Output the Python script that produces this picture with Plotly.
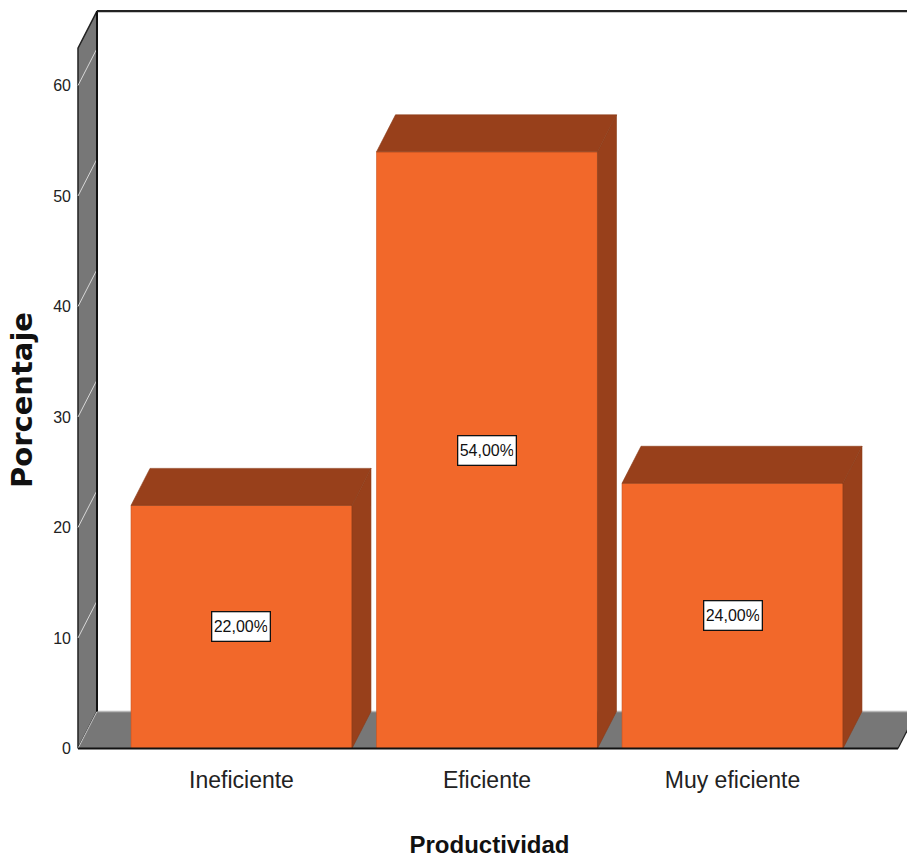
import plotly.graph_objects as go

# ---- data ----
categories = ["Ineficiente", "Eficiente", "Muy eficiente"]
percentages = [22, 54, 24]
value_labels = ["22,00%", "54,00%", "24,00%"]
y_ticks = [0, 10, 20, 30, 40, 50, 60]

# ---- style / geometry (data units) ----
FRONT = "#F2682A"
DARK = "#98401B"
GRAY = "#777777"
BAR_W = 0.9
DX = 0.0774      # depth offset in x (category units)
DY = 3.35        # depth offset in y (percent units)
X_RANGE = [-0.6904, 2.7108]
Y_RANGE = [-0.5, 67.74]
WALL_X = -0.666
FLOOR_RIGHT = 2.674
TOP_BACK = 66.74
SANS = "Liberation Sans, Arial, sans-serif"

xs = list(range(len(categories)))

fig = go.Figure()

# front faces of bars
fig.add_trace(go.Bar(
    x=xs, y=percentages, width=BAR_W, base=0,
    marker=dict(color=FRONT, line=dict(color="#C85420", width=0.6)),
    hoverinfo="skip", showlegend=False,
))

# side and top faces
for x, v in zip(xs, percentages):
    l, r = x - BAR_W / 2, x + BAR_W / 2
    fig.add_trace(go.Scatter(
        x=[r, r + DX, r + DX, r, r], y=[0, DY, v + DY, v, 0],
        fill="toself", fillcolor=DARK, mode="lines",
        line=dict(color="#8A3A18", width=0.6),
        hoverinfo="skip", showlegend=False,
    ))
    fig.add_trace(go.Scatter(
        x=[l, l + DX, r + DX, r, l], y=[v, v + DY, v + DY, v, v],
        fill="toself", fillcolor=DARK, mode="lines",
        line=dict(color="#8A3A18", width=0.6),
        hoverinfo="skip", showlegend=False,
    ))

shapes = []
wx0, wx1 = WALL_X, WALL_X + DX
# left wall
shapes.append(dict(
    type="path", xref="x", yref="y", layer="below",
    path=f"M {wx0},0 L {wx0},{TOP_BACK-DY} L {wx1},{TOP_BACK} L {wx1},{DY} Z",
    fillcolor=GRAY, line=dict(color="#222222", width=1.5),
))
# wall tick lines
for t in y_ticks[1:]:
    shapes.append(dict(
        type="line", xref="x", yref="y", layer="below",
        x0=wx0, y0=t, x1=wx1, y1=t + DY,
        line=dict(color="#D8D8D8", width=1),
    ))
# floor
shapes.append(dict(
    type="path", xref="x", yref="y", layer="below",
    path=f"M {wx0},0 L {wx1},{DY} L {FLOOR_RIGHT+DX},{DY} L {FLOOR_RIGHT},0 Z",
    fillcolor=GRAY, line=dict(width=0),
))
shapes.append(dict(type="line", xref="x", yref="y", layer="below",
                   x0=wx1, y0=DY, x1=FLOOR_RIGHT + DX, y1=DY,
                   line=dict(color="#B8B8B8", width=1.5)))
shapes.append(dict(type="line", xref="x", yref="y", layer="below",
                   x0=wx0, y0=0, x1=wx1, y1=DY,
                   line=dict(color="#C8C8C8", width=1)))
shapes.append(dict(type="line", xref="x", yref="y", layer="below",
                   x0=FLOOR_RIGHT, y0=0, x1=FLOOR_RIGHT + DX, y1=DY,
                   line=dict(color="#222222", width=1.2)))
shapes.append(dict(type="line", xref="x", yref="y", layer="above",
                   x0=wx0, y0=0, x1=FLOOR_RIGHT, y1=0,
                   line=dict(color="#111111", width=2)))
# back wall vertical edge and top edge
shapes.append(dict(type="line", xref="x", yref="y", layer="below",
                   x0=wx1, y0=DY, x1=wx1, y1=TOP_BACK,
                   line=dict(color="#111111", width=2)))
shapes.append(dict(type="line", xref="x", yref="y", layer="below",
                   x0=wx1, y0=TOP_BACK, x1=X_RANGE[1] + 0.1, y1=TOP_BACK,
                   line=dict(color="#222222", width=2.2)))

plot_w = 907 - 72
plot_h = 866 - 112

annotations = []
for x, v, lab in zip(xs, percentages, value_labels):
    annotations.append(dict(
        x=x, y=v / 2, xref="x", yref="y", text=lab, showarrow=False,
        font=dict(family=SANS, size=16, color="#111111"),
        width=53, height=24,
        bgcolor="white", bordercolor="#111111", borderwidth=1.3, borderpad=2,
    ))
annotations.append(dict(
    x=(22 - 72) / plot_w, y=(plot_h - 400) / plot_h,
    xref="paper", yref="paper", text="<b>Porcentaje</b>",
    showarrow=False, textangle=-90, xanchor="center", yanchor="middle",
    font=dict(family="DejaVu Sans, Liberation Sans, sans-serif", size=29, color="#111111"),
))

fig.update_layout(
    width=907, height=866,
    margin=dict(l=72, r=0, t=0, b=112),
    paper_bgcolor="white", plot_bgcolor="white",
    shapes=shapes,
    annotations=annotations,
    xaxis=dict(
        range=X_RANGE, tickmode="array", tickvals=xs, ticktext=categories,
        showgrid=False, zeroline=False, showline=False, ticks="",
        ticklabelstandoff=10,
        tickfont=dict(family=SANS, size=23, color="#222222"),
        title=dict(text="<b>Productividad</b>", standoff=44,
                   font=dict(family=SANS, size=24, color="#111111")),
    ),
    yaxis=dict(
        range=Y_RANGE, tickmode="array", tickvals=y_ticks,
        showgrid=False, zeroline=False, showline=False, ticks="",
        tickfont=dict(family=SANS, size=16, color="#222222"),
    ),
)

fig.write_html("out.html")
